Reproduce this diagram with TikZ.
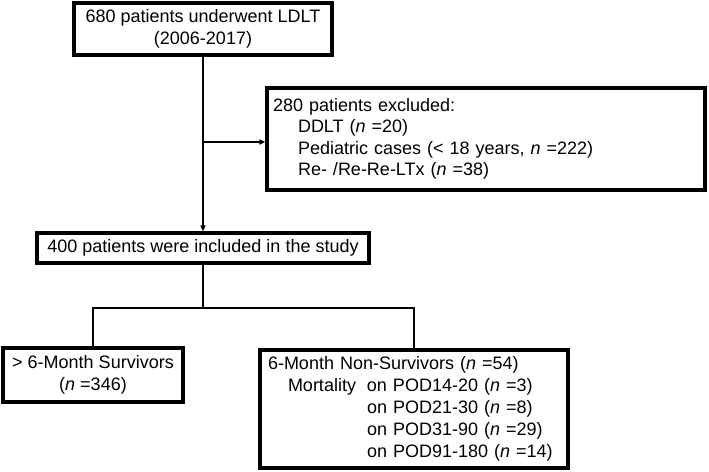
\documentclass[tikz,border=0pt]{standalone}
\usepackage{fontspec}
\setmainfont{Liberation Sans}
\usetikzlibrary{arrows.meta}
\begin{document}
\begin{tikzpicture}[x=1pt,y=-1pt,
  box/.style={draw,line width=3.2pt,inner sep=0pt,font=\fontsize{18}{22}\selectfont},
  conn/.style={line width=1.6pt},
  arr/.style={conn,-{Triangle[length=6pt,width=5pt]}}]
\useasboundingbox (0,0) rectangle (709,471);
\node[box,minimum width=258pt,minimum height=52pt,align=center] (top) at (203,29)
  {680 patients underwent LDLT\\(2006-2017)};
\node[box,text width=426pt,inner xsep=6pt,minimum height=102pt,align=left,
  font=\fontsize{18}{21.5}\selectfont] (excl) at (486,139)
  {280 patients excluded:\\
   \hspace*{25pt}DDLT (\textit{n} =20)\\
   \hspace*{25pt}Pediatric cases (< 18 years, \textit{n} =222)\\
   \hspace*{25pt}Re- /Re-Re-LTx (\textit{n} =38)};
\node[box,minimum width=332pt,minimum height=30pt] (mid) at (203,248)
  {400 patients were included in the study};
\node[box,minimum width=180pt,minimum height=54pt,align=center] (left) at (93,375)
  {> 6-Month Survivors\\(\textit{n} =346)};
\node[box,text width=292pt,inner xsep=8pt,minimum height=118pt,align=left] (right) at (414,409)
  {6-Month Non-Survivors (\textit{n} =54)\\
   \hspace*{20pt}\makebox[79pt][l]{Mortality}on POD14-20 (\textit{n} =3)\\
   \hspace*{99pt}on POD21-30 (\textit{n} =8)\\
   \hspace*{99pt}on POD31-90 (\textit{n} =29)\\
   \hspace*{99pt}on POD91-180 (\textit{n} =14)};
\draw[arr] (top.south) -- (mid.north);
\coordinate (j1) at ([yshift=-3pt]top.south |- excl.west);
\draw[arr] (j1) -- (j1 -| excl.west);
\coordinate (j2) at (203,308);
\draw[conn] (mid.south) -- (j2);
\draw[conn] (left.north) |- (j2) -| (right.north);
\end{tikzpicture}
\end{document}
